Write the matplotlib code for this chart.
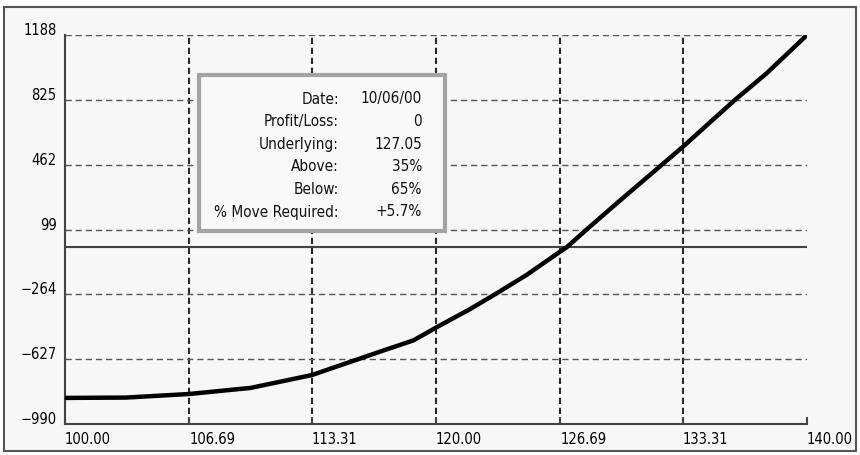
import matplotlib
matplotlib.use("Agg")
import matplotlib.pyplot as plt
from matplotlib.patches import Rectangle

# profit/loss curve
price = [100.00, 103.30, 106.69, 110.00, 113.31, 116.98, 118.78, 120.04, 121.83,
         123.18, 124.89, 126.69, 127.05, 128.00, 129.76, 132.18, 133.31, 134.61,
         136.12, 137.84, 140.00]
pl = [-844, -842, -822, -788, -716, -585, -522, -448, -347,
      -264, -155, -25, 0, 88, 247, 462, 562, 684,
      825, 975, 1188]

x_ticks = [100.00, 106.69, 113.31, 120.00, 126.69, 133.31, 140.00]
x_labels = ["100.00", "106.69", "113.31", "120.00", "126.69", "133.31", "140.00"]
y_ticks = [-990, -627, -264, 99, 462, 825, 1188]
y_labels = ["\u2212990", "\u2212627", "\u2212264", "99", "462", "825", "1188"]

info_keys = ["Date:", "Profit/Loss:", "Underlying:", "Above:", "Below:", "% Move Required:"]
info_vals = ["10/06/00", "0", "127.05", "35%", "65%", "+5.7%"]

W, H = 860, 455


def main():
    plt.rcParams['font.family'] = ['DejaVu Sans']
    plt.rcParams['font.stretch'] = 'condensed'
    fig = plt.figure(figsize=(W / 100, H / 100), dpi=100)
    fig.patch.set_facecolor('white')

    # outer frame
    fig.patches.append(Rectangle((4 / W, 1 - 451 / H), 852 / W, 444 / H,
                                 transform=fig.transFigure, facecolor='#f7f7f7',
                                 edgecolor='#555555', linewidth=1.5, zorder=-5))

    ax = fig.add_axes([65 / W, 1 - 424 / H, 742 / W, 389 / H])
    ax.set_zorder(1)
    ax.set_facecolor('none')
    ax.set_xlim(100, 140)
    ax.set_ylim(-990, 1188)

    # grid
    for v in x_ticks[1:-1]:
        ax.axvline(v, color='#2a2a2a', linewidth=1.5, linestyle=(0, (3, 1.8)), zorder=1)
    for v in y_ticks[1:]:
        ax.axhline(v, color='#555555', linewidth=1.0, linestyle=(0, (4.5, 2.8)), zorder=1)
    ax.axhline(0, color='#444444', linewidth=1.5, zorder=1)

    ax.plot(price, pl, color='black', linewidth=3.2, zorder=3,
            solid_capstyle='round', solid_joinstyle='round')

    for s in ('top', 'right'):
        ax.spines[s].set_visible(False)
    for s in ('left', 'bottom'):
        ax.spines[s].set_color('#444444')
        ax.spines[s].set_linewidth(1.5)

    ax.set_xticks(x_ticks)
    ax.set_xticklabels(x_labels, ha='left', fontsize=10.5)
    ax.tick_params(axis='x', direction='in', length=5, width=1.5, color='#444444', pad=6)
    ax.set_yticks(y_ticks)
    ax.set_yticklabels(y_labels, fontsize=10.5)
    ax.tick_params(axis='y', length=0, pad=6)
    for lab in ax.get_yticklabels():
        lab.set_va('baseline')

    # info box
    fig.patches.append(Rectangle((199 / W, 1 - 231 / H), 246 / W, 156 / H,
                                 transform=fig.transFigure, facecolor='#f9f9f9',
                                 edgecolor='#a3a3a5', linewidth=3.0, zorder=5))
    for i, (k, v) in enumerate(zip(info_keys, info_vals)):
        yy = 1 - (99 + i * 22.6) / H
        fig.text(339 / W, yy, k, ha='right', va='center', fontsize=11, color='#111111', zorder=6)
        fig.text(422 / W, yy, v, ha='right', va='center', fontsize=11, color='#111111', zorder=6)

    fig.savefig("out.png", dpi=100)


if __name__ == "__main__":
    main()
